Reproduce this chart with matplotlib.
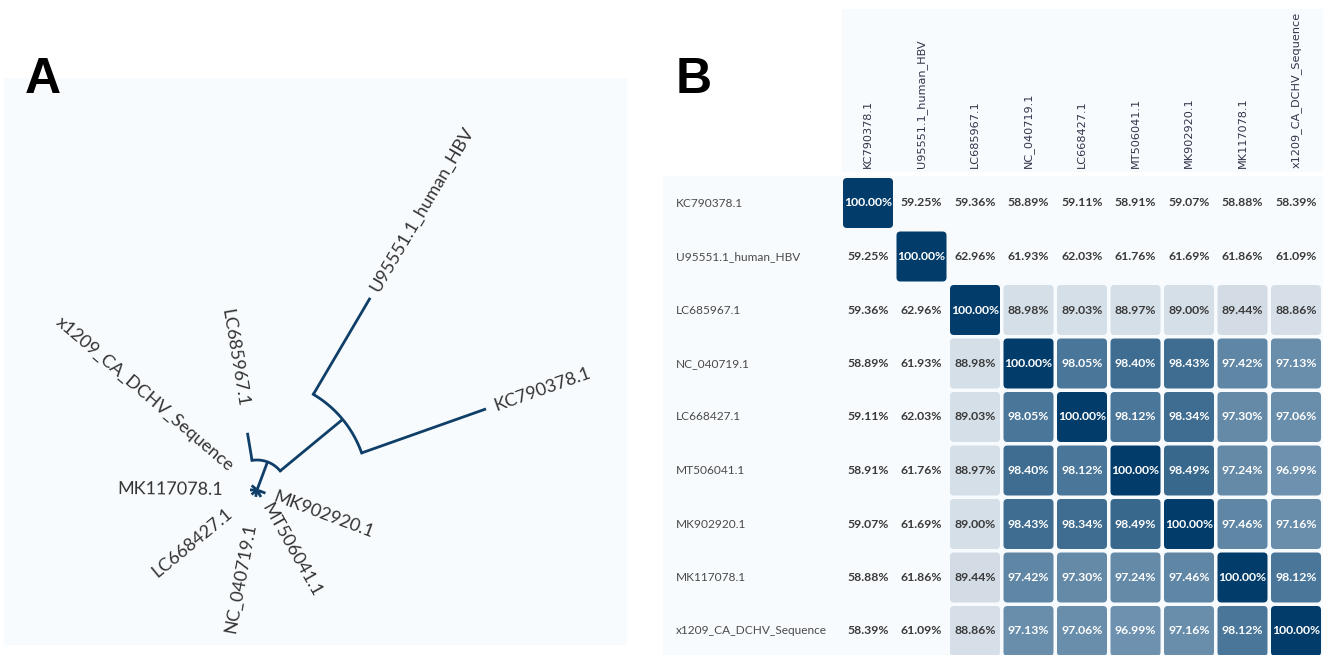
import re
import numpy as np
import matplotlib
matplotlib.use("Agg")
import matplotlib.pyplot as plt
from matplotlib.patches import FancyBboxPatch, Rectangle
from matplotlib.colors import LinearSegmentedColormap

# ---------------------------------------------------------------- data
# Phylogeny (Newick, branch lengths in substitutions/site)
newick = ("(((KC790378.1:0.132,U95551.1_human_HBV:0.112):0.081,LC685967.1:0.028):0.030,"
          "(x1209_CA_DCHV_Sequence:0.006,MK117078.1:0.006):0.001,"
          "(LC668427.1:0.006,(NC_040719.1:0.005,(MT506041.1:0.005,MK902920.1:0.006):0.001):0.001):0.001);")

# Pairwise identity matrix (%)
seq_names = ["KC790378.1", "U95551.1_human_HBV", "LC685967.1", "NC_040719.1",
             "LC668427.1", "MT506041.1", "MK902920.1", "MK117078.1",
             "x1209_CA_DCHV_Sequence"]
identity = [
    [100.00, 59.25, 59.36, 58.89, 59.11, 58.91, 59.07, 58.88, 58.39],
    [59.25, 100.00, 62.96, 61.93, 62.03, 61.76, 61.69, 61.86, 61.09],
    [59.36, 62.96, 100.00, 88.98, 89.03, 88.97, 89.00, 89.44, 88.86],
    [58.89, 61.93, 88.98, 100.00, 98.05, 98.40, 98.43, 97.42, 97.13],
    [59.11, 62.03, 89.03, 98.05, 100.00, 98.12, 98.34, 97.30, 97.06],
    [58.91, 61.76, 88.97, 98.40, 98.12, 100.00, 98.49, 97.24, 96.99],
    [59.07, 61.69, 89.00, 98.43, 98.34, 98.49, 100.00, 97.46, 97.16],
    [58.88, 61.86, 89.44, 97.42, 97.30, 97.24, 97.46, 100.00, 98.12],
    [58.39, 61.09, 88.86, 97.13, 97.06, 96.99, 97.16, 98.12, 100.00],
]

# ---------------------------------------------------------------- style
W, H = 1332, 655
TREE_COLOR = "#0f3f68"
PANEL_BG = "#f8fbfd"
TABLE_BG = "#f8fbfd"
TEXT_DARK = "#333333"

fig = plt.figure(figsize=(W / 100, H / 100), dpi=100)
fig.patch.set_facecolor("white")


def px_axes(x0, y0, x1, y1):
    """Axes spanning the given pixel box (origin top-left)."""
    return fig.add_axes([x0 / W, (H - y1) / H, (x1 - x0) / W, (y1 - y0) / H])


# ---------------------------------------------------------------- Newick parsing
def parse_newick(s):
    tokens = re.findall(r"[(),;]|[^(),;]+", s.replace(" ", ""))
    pos = 0

    def node():
        nonlocal pos
        children = []
        if tokens[pos] == "(":
            pos += 1
            children.append(node())
            while tokens[pos] == ",":
                pos += 1
                children.append(node())
            pos += 1  # ')'
        name, length = "", 0.0
        if pos < len(tokens) and tokens[pos] not in "(),;":
            part = tokens[pos]
            pos += 1
            if ":" in part:
                name, l = part.split(":")
                length = float(l)
            else:
                name = part
        return {"name": name, "len": length, "children": children}

    return node()


root = parse_newick(newick)

# circular layout: leaves evenly spread, internal nodes at mean child angle
leaves = []


def collect(n):
    if not n["children"]:
        leaves.append(n)
    for c in n["children"]:
        collect(c)


collect(root)
n_leaves = len(leaves)
start_angle = 19.5
for i, lf in enumerate(leaves):
    lf["ang"] = start_angle + i * 360.0 / n_leaves


def layout(n, r0):
    n["r"] = r0 + n["len"]
    for c in n["children"]:
        layout(c, n["r"])
    if n["children"]:
        n["ang"] = float(np.mean([c["ang"] for c in n["children"]]))


layout(root, 0.0)

# ---------------------------------------------------------------- panel A
axA = px_axes(4, 78, 627, 645)
axA.set_facecolor(PANEL_BG)
for sp in axA.spines.values():
    sp.set_visible(False)
axA.set_xticks([])
axA.set_yticks([])
# centre of the tree sits at pixel (257, 490)
cx, cy, scale = 257, 490, 1000.0
axA.set_xlim((4 - cx) / scale, (627 - cx) / scale)
axA.set_ylim((cy - 645) / scale, (cy - 78) / scale)


def pol(r, a):
    t = np.deg2rad(a)
    return r * np.cos(t), r * np.sin(t)


def draw(n, parent_r):
    if n is not root:
        x0, y0 = pol(parent_r, n["ang"])
        x1, y1 = pol(n["r"], n["ang"])
        axA.plot([x0, x1], [y0, y1], color=TREE_COLOR, lw=2.0,
                 solid_capstyle="butt", zorder=3)
    if len(n["children"]) > 1 and n["r"] > 0:
        angs = [c["ang"] for c in n["children"]]
        tt = np.linspace(min(angs), max(angs), 60)
        xs, ys = pol(n["r"], tt)
        axA.plot(xs, ys, color=TREE_COLOR, lw=2.0, zorder=3)
    for c in n["children"]:
        draw(c, n["r"])
    if not n["children"]:
        a = n["ang"] % 360
        left = 90 < a < 270
        off = 0.027 if left else 0.009
        lx, ly = pol(n["r"] + off, a)
        axA.text(lx, ly, n["name"], rotation=a - 180 if left else a,
                 rotation_mode="anchor", ha="right" if left else "left",
                 va="center", fontsize=13, family="Lato", color=TEXT_DARK,
                 zorder=4)


draw(root, 0.0)

fig.text(25 / W, 1 - 93 / H, "A", fontsize=36, fontweight="bold",
         family="Liberation Sans", ha="left", va="baseline")
fig.text(676 / W, 1 - 93 / H, "B", fontsize=36, fontweight="bold",
         family="Liberation Sans", ha="left", va="baseline")

# ---------------------------------------------------------------- panel B
# light backgrounds for the header and body of the table
bgax = px_axes(0, 0, W, H)
bgax.set_xlim(0, W)
bgax.set_ylim(H, 0)
bgax.axis("off")
bgax.add_patch(Rectangle((842, 9), 481, 163, color=TABLE_BG, lw=0))
bgax.add_patch(Rectangle((663, 176), 660, 480, color=TABLE_BG, lw=0))

n = len(seq_names)
pitch = 53.5
gx0, gy0 = 841.25, 176.25
axB = px_axes(gx0, gy0, gx0 + n * pitch, gy0 + n * pitch)
axB.set_xlim(0, n)
axB.set_ylim(n, 0)
axB.axis("off")

anchors = [60.0, 88.5, 89.6, 96.9, 97.5, 98.1, 98.5, 100.0]
anchor_cols = ["#f6f9fc", "#d8e1e9", "#d2dce5", "#7194b0", "#5f86a5",
               "#4b779a", "#3d6b8f", "#013c6a"]
cmap = LinearSegmentedColormap.from_list(
    "ident", [((v - anchors[0]) / (anchors[-1] - anchors[0]), c)
              for v, c in zip(anchors, anchor_cols)])

vals = np.array(identity)
gap = 3.5 / pitch
rad = 4.0 / pitch
for i in range(n):
    for j in range(n):
        v = vals[i, j]
        if v >= 80:
            frac = (v - anchors[0]) / (anchors[-1] - anchors[0])
            axB.add_patch(FancyBboxPatch(
                (j + gap / 2 + rad, i + gap / 2 + rad),
                1 - gap - 2 * rad, 1 - gap - 2 * rad,
                boxstyle=f"round,pad={rad}", fc=cmap(frac), ec="none",
                clip_on=False))
        axB.text(j + 0.5, i + 0.5, f"{v:.2f}%", ha="center", va="center",
                 fontsize=8.8, family="Lato", fontweight="bold",
                 color="white" if v >= 95 else "#3a3a3a", clip_on=False)

for i, name in enumerate(seq_names):
    y = gy0 + (i + 0.5) * pitch
    fig.text(676 / W, 1 - y / H, name, ha="left", va="center",
             fontsize=8.6, family="Lato", color="#4a4a4a")
    x = gx0 + (i + 0.5) * pitch
    fig.text(x / W, 1 - 168 / H, name, rotation=90, ha="center",
             va="bottom", fontsize=8.1, family="DejaVu Sans", color="#33334a")

fig.savefig("out.png", dpi=100)
